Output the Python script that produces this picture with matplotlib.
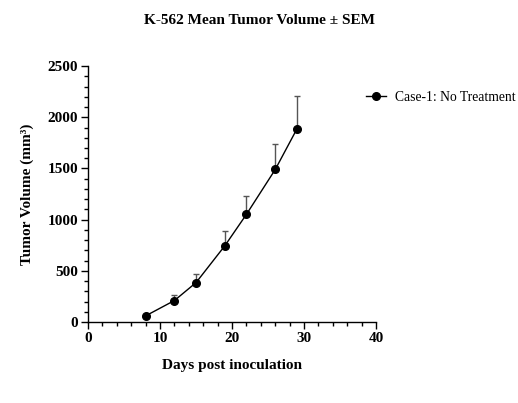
import matplotlib
matplotlib.use("Agg")
import matplotlib.pyplot as plt
from matplotlib.ticker import MultipleLocator

days = [8, 12, 15, 19, 22, 26, 29]
volume = [60, 210, 385, 745, 1052, 1490, 1885]
sem_upper = [8, 55, 88, 143, 177, 253, 322]
series_label = "Case-1: No Treatment"

plt.rcParams['font.family'] = ['Liberation Serif', 'DejaVu Serif']

fig = plt.figure(figsize=(5.18, 4.03), dpi=100)
ax = fig.add_axes([0.170, 0.201, 0.556, 0.635])

ax.errorbar(days, volume, yerr=[[0]*len(sem_upper), sem_upper], fmt='none',
            ecolor='#555555', elinewidth=1, capsize=2.2, capthick=1)
ax.plot(days, volume, color='black', lw=1, marker='o', markersize=5.5,
        label=series_label)

ax.set_xlim(0, 40)
ax.set_ylim(0, 2500)
ax.xaxis.set_major_locator(MultipleLocator(10))
ax.xaxis.set_minor_locator(MultipleLocator(2))
ax.yaxis.set_major_locator(MultipleLocator(500))
ax.yaxis.set_minor_locator(MultipleLocator(100))
for s in ['top', 'right']:
    ax.spines[s].set_visible(False)
for s in ['left', 'bottom']:
    ax.spines[s].set_linewidth(1)
ax.tick_params(which='major', length=5, width=1, labelsize=11, pad=2)
ax.tick_params(which='minor', length=3, width=1)
for lab in ax.get_xticklabels() + ax.get_yticklabels():
    lab.set_fontweight('bold')
ax.set_xlabel("Days post inoculation", fontsize=11, fontweight='bold', labelpad=10)
ax.set_ylabel("Tumor Volume (mm³)", fontsize=11, fontweight='bold', labelpad=10)
for a in ax.lines + ax.collections:
    a.set_clip_on(False)

fig.suptitle("K-562 Mean Tumor Volume ± SEM", fontsize=11, fontweight='bold', y=0.965)
ax.legend(loc='center left', bbox_to_anchor=(0.965, 0.879), frameon=False,
          fontsize=9.8, handlelength=1.5, handletextpad=0.6, borderpad=0,
          borderaxespad=0)

fig.savefig("out.png", dpi=100)
